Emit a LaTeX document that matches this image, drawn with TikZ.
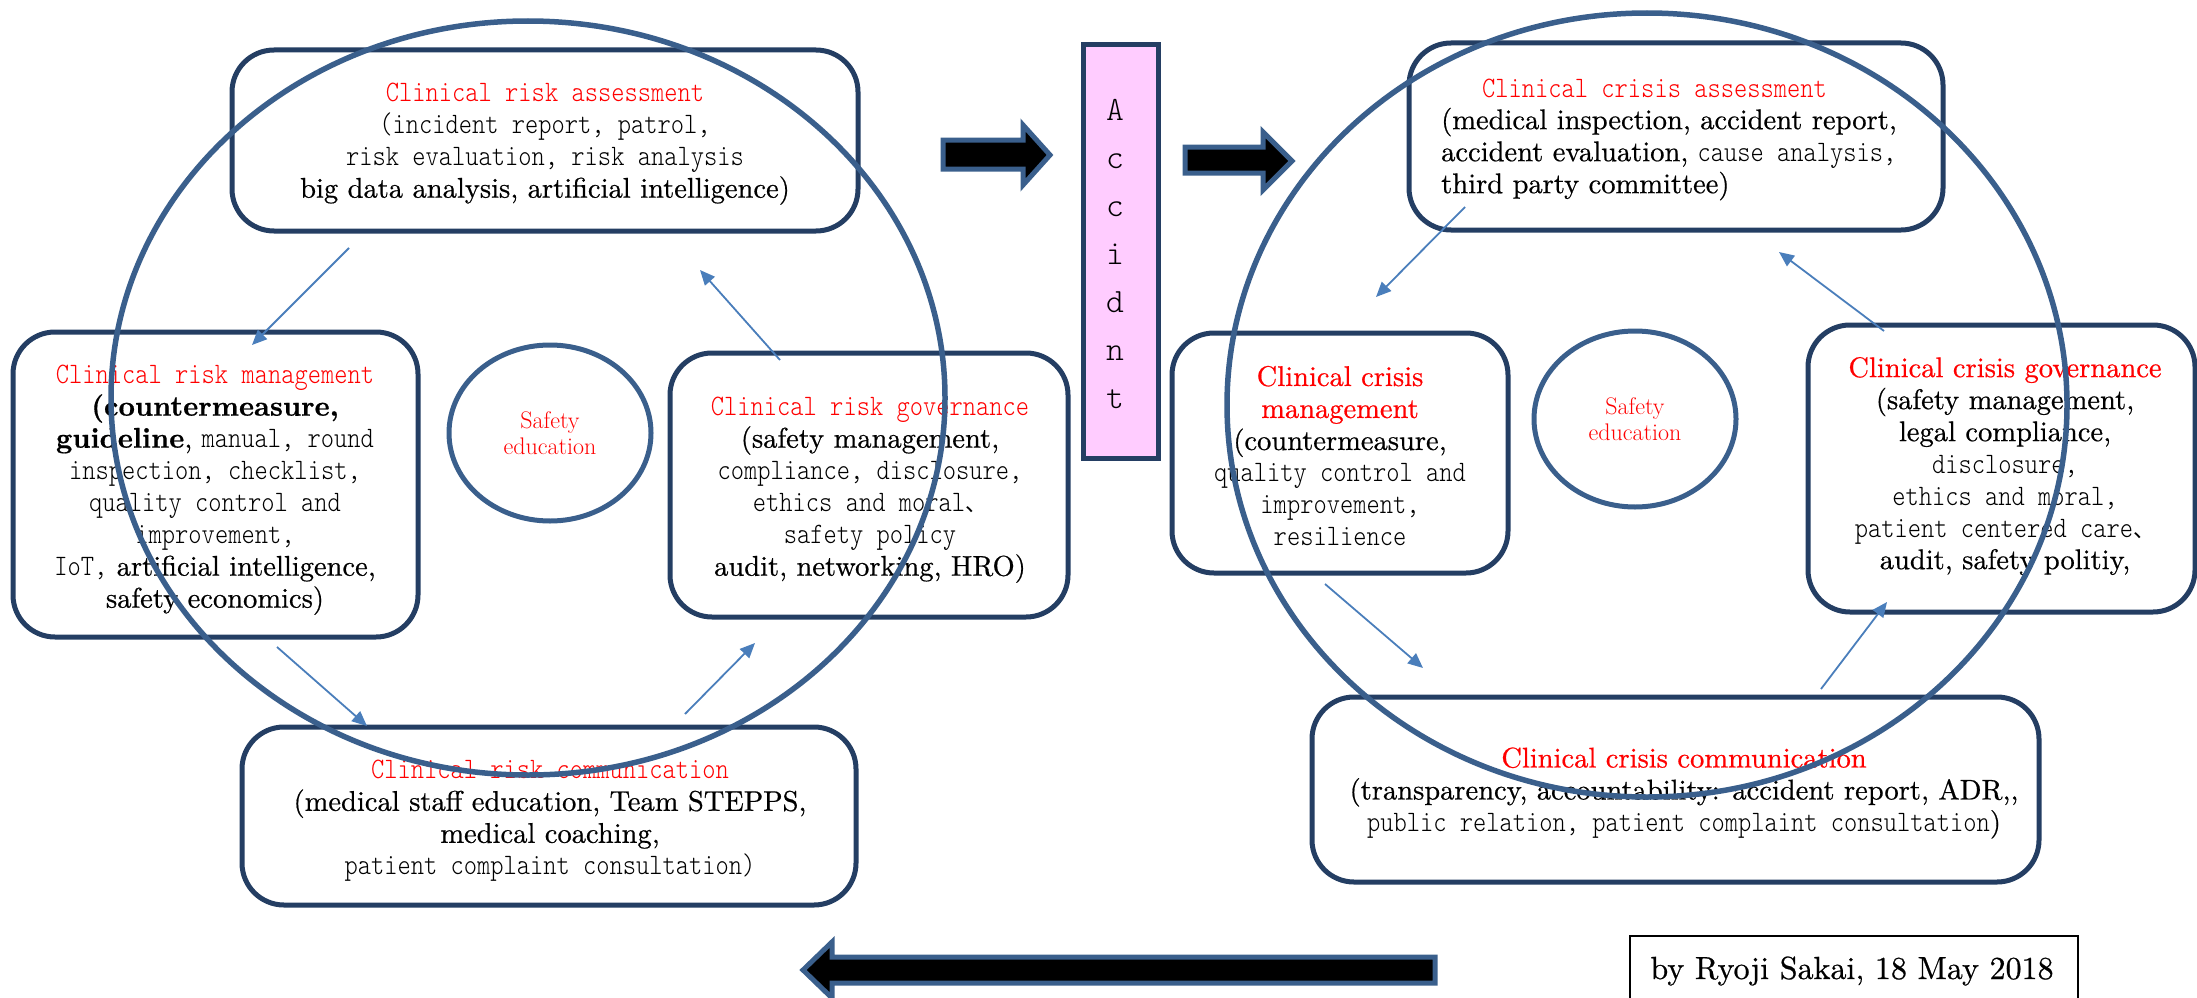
\documentclass[tikz,border=0pt]{standalone}
\usepackage{fontspec}
\usepackage{graphicx}
\usetikzlibrary{arrows.meta,shapes.geometric}
\newfontfamily\cjkF{Noto Sans CJK JP}
\newfontfamily\monoL{lmmonolt10-regular.otf}
\newfontfamily\serifD{lmroman10-regular.otf}[BoldFont=lmroman10-bold.otf, FakeBold=0.6]
\newcommand\mtx[1]{\scalebox{0.85}[1]{\monoL\fontsize{29.7}{32}\selectfont #1}}
\newcommand\jcm{{\cjkF\fontsize{22}{32}\selectfont 、}}
\definecolor{boxline}{HTML}{243E63}
\definecolor{ringline}{HTML}{3A5F8C}
\definecolor{smallarrow}{HTML}{4A7EBB}
\definecolor{accfill}{HTML}{FFCCFF}
\tikzset{
  rbox/.style={draw=boxline, line width=5pt, rounded corners=42pt, inner sep=0pt},
  txt/.style={align=center, inner sep=0pt, font=\serifD\fontsize{28.5}{32}\selectfont},
  ring/.style={draw=ringline, line width=5.5pt, ellipse, inner sep=0pt},
  edu/.style={draw=ringline, line width=5pt, ellipse, inner sep=0pt, minimum width=202pt, minimum height=176pt},
  edutxt/.style={align=center, inner sep=0pt, text=red, font=\fontsize{24}{26}\selectfont},
  sarrow/.style={draw=smallarrow, line width=1.8pt, -{Triangle[length=15pt,width=13pt]}},
  blockarrow/.style={fill=black, draw=ringline, line width=5pt, line join=miter},
}
\begin{document}
\begin{tikzpicture}[x=1pt,y=-1pt]
\useasboundingbox (0,0) rectangle (2197,998);
% ---------- left boxes
\node[rbox, minimum width=626pt, minimum height=181pt] (b1) at (545,140.5) {};
\node[rbox, minimum width=405pt, minimum height=305pt] (b2) at (215.5,484.5) {};
\node[rbox, minimum width=398pt, minimum height=264pt] (b3) at (869,485) {};
\node[rbox, minimum width=614pt, minimum height=178pt] (b4) at (549,816) {};
% ---------- right boxes
\node[rbox, minimum width=534pt, minimum height=187pt] (b5) at (1676,136.5) {};
\node[rbox, minimum width=336pt, minimum height=240pt] (b6) at (1340,453) {};
\node[rbox, minimum width=387pt, minimum height=287pt] (b7) at (2001.5,468.5) {};
\node[rbox, minimum width=727pt, minimum height=185pt] (b8) at (1675.5,789.5) {};
% ---------- texts
\node[txt] (t1) at (545,144) {\textcolor{red}{\mtx{Clinical risk assessment}}\\
\mtx{(incident report, patrol,}\\
\mtx{risk evaluation, risk analysis}\\
big data analysis, artificial intelligence)};
\node[txt] (t2) at (215,490) {\textcolor{red}{\mtx{Clinical risk management}}\\
\textbf{(countermeasure,}\\
\textbf{guideline}, \mtx{manual, round}\\
\mtx{inspection, checklist,}\\
\mtx{quality control and}\\
\mtx{improvement,}\\
\mtx{IoT,} artificial intelligence,\\
safety economics)};
\node[txt] (t3) at (870,490) {\textcolor{red}{\mtx{Clinical risk governance}}\\
(safety management,\\
\mtx{compliance, disclosure,}\\
\mtx{ethics and moral}\jcm\\
\mtx{safety policy}\\
audit, networking, HRO)};
\node[txt] (t4) at (550,821) {\textcolor{red}{\mtx{Clinical risk communication}}\\
(medical staff education, Team STEPPS,\\
medical coaching,\\
\mtx{patient complaint consultation)}};
\node[txt, align=left, anchor=west] (t5) at (1441,139.5) {\hspace*{41pt}\textcolor{red}{\mtx{Clinical crisis assessment}}\\
(medical inspection, accident report,\\
accident evaluation, \mtx{cause analysis,}\\
third party committee)};
\node[txt] (t6) at (1340,456) {\textcolor{red}{Clinical crisis}\\
\textcolor{red}{management}\\
(countermeasure,\\
\mtx{quality control and}\\
\mtx{improvement,}\\
\mtx{resilience}};
\node[txt] (t7) at (2005,466) {\textcolor{red}{Clinical crisis governance}\\
(safety management,\\
legal compliance,\\
\mtx{disclosure,}\\
\mtx{ethics and moral,}\\
\mtx{patient centered care}\jcm\\
audit, safety politiy,};
\node[txt] (t8) at (1684,793) {\textcolor{red}{Clinical crisis communication}\\
(transparency, accountability: accident report, ADR,,\\
\mtx{public relation, patient complaint consultation})};
% ---------- safety education
\node[edu] (e1) at (550,433) {};
\node[edutxt] at (e1.center) {Safety\\education};
\node[edu] (e2) at (1635,419) {};
\node[edutxt] at (e2.center) {Safety\\education};
% ---------- accident
\node[draw=boxline, fill=accfill, line width=5pt, minimum width=75pt, minimum height=413pt, inner sep=0pt] (acc) at (1120.5,251.5) {};
\node[align=center, inner sep=0pt, font=\monoL\fontsize{34}{48}\selectfont] (acctxt) at (1115,254) {A\\c\\c\\i\\d\\n\\t};
% ---------- big rings
\node[ring, minimum width=834pt, minimum height=754pt] (ringL) at (528,398) {};
\node[ring, minimum width=840pt, minimum height=784pt] (ringR) at (1647,405) {};
% ---------- small arrows
\coordinate (a1s) at (349,248); \coordinate (a1e) at (252,345);
\coordinate (a2s) at (277,647); \coordinate (a2e) at (367,726);
\coordinate (a3s) at (685,714); \coordinate (a3e) at (755,643);
\coordinate (a4s) at (780,360); \coordinate (a4e) at (700,270);
\coordinate (a5s) at (1465,207); \coordinate (a5e) at (1376,297);
\coordinate (a6s) at (1325,584); \coordinate (a6e) at (1423,668);
\coordinate (a7s) at (1821,689); \coordinate (a7e) at (1887,602);
\coordinate (a8s) at (1884,331); \coordinate (a8e) at (1779,252);
\draw[sarrow] (a1s) -- (a1e);
\draw[sarrow] (a2s) -- (a2e);
\draw[sarrow] (a3s) -- (a3e);
\draw[sarrow] (a4s) -- (a4e);
\draw[sarrow] (a5s) -- (a5e);
\draw[sarrow] (a6s) -- (a6e);
\draw[sarrow] (a7s) -- (a7e);
\draw[sarrow] (a8s) -- (a8e);
% ---------- block arrows
\draw[blockarrow] (943,140) -- (1023,140) -- (1023,125) -- (1050,155) -- (1023,185) -- (1023,169) -- (943,169) -- cycle;
\draw[blockarrow] (1185,147) -- (1263,147) -- (1263,132) -- (1292,161) -- (1263,190) -- (1263,173) -- (1185,173) -- cycle;
\draw[blockarrow] (1435,957) -- (832,957) -- (832,942) -- (803,970) -- (832,998) -- (832,983) -- (1435,983) -- cycle;
% ---------- credit
\draw[black, line width=2pt] (1630,1010) -- (1630,936) -- (2078,936) -- (2078,1010);
\node[inner sep=0pt, font=\serifD\fontsize{32}{34}\selectfont] (credit) at (1852,971) {by Ryoji Sakai, 18 May 2018};
\end{tikzpicture}
\end{document}
